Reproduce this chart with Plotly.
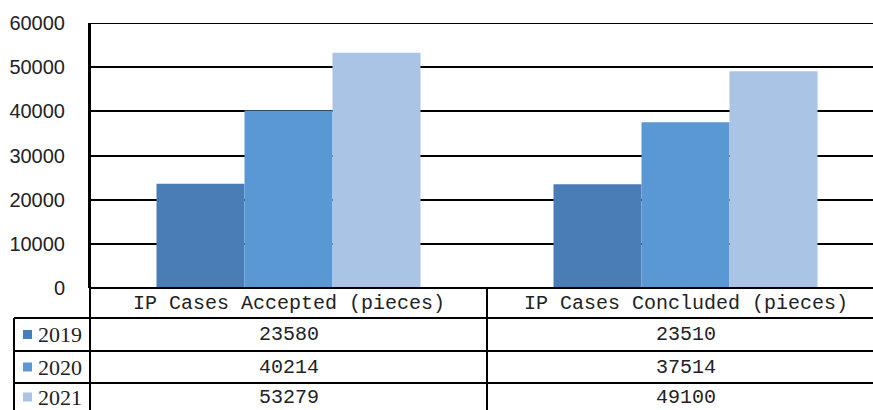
import plotly.graph_objects as go

categories = ["IP Cases Accepted (pieces)", "IP Cases Concluded (pieces)"]
years = ["2019", "2020", "2021"]
values_2019 = [23580, 23510]
values_2020 = [40214, 37514]
values_2021 = [53279, 49100]
series = [values_2019, values_2020, values_2021]
colors = ["#4A7DB5", "#5A98D4", "#A9C4E5"]
y_ticks = [0, 10000, 20000, 30000, 40000, 50000, 60000]

W, H = 873, 410
L, T, B = 90, 23, 122
plot_h = H - T - B
plot_w = W - L

def py(p):  # pixel y -> paper y
    return (H - B - p) / plot_h

def px(p):  # pixel x -> paper x
    return (p - L) / plot_w

fig = go.Figure()
for yr, vals, c in zip(years, series, colors):
    fig.add_trace(go.Bar(x=[0, 1], y=vals, name=yr, marker=dict(color=c, line=dict(width=0)),
                         showlegend=False))

line = dict(color="black", width=2)
shapes = []
# top gridline at the axis maximum
shapes.append(dict(type="line", xref="paper", yref="y", x0=0, x1=1.02, y0=y_ticks[-1], y1=y_ticks[-1],
                   line=line, layer="below"))
for p in [H - B]:
    shapes.append(dict(type="line", xref="paper", yref="paper", x0=0, x1=1.02, y0=py(p), y1=py(p), line=line))
for p in [318, 351, 383]:
    shapes.append(dict(type="line", xref="paper", yref="paper", x0=px(14), x1=1.02, y0=py(p), y1=py(p), line=line))
shapes.append(dict(type="line", xref="paper", yref="paper", x0=0, x1=0, y0=1, y1=py(420), line=line))
shapes.append(dict(type="line", xref="x", yref="paper", x0=0.5, x1=0.5, y0=0, y1=py(420), line=line))
shapes.append(dict(type="line", xref="paper", yref="paper", x0=px(14), x1=px(14), y0=py(318), y1=py(420), line=line))

annotations = []
row_centers = [334.5, 367, 397]
for i, cat in enumerate(categories):
    annotations.append(dict(x=i, xref="x", y=py(303), yref="paper", text=cat, showarrow=False,
                            font=dict(family="Liberation Mono", size=20, color="#222"),
                            xanchor="center", yanchor="middle"))
for r, (yr, vals, c) in enumerate(zip(years, series, colors)):
    yc = py(row_centers[r])
    shapes.append(dict(type="rect", xref="paper", yref="paper", x0=px(23), x1=px(32),
                       y0=yc - 4.5 / plot_h, y1=yc + 4.5 / plot_h, fillcolor=c, line=dict(width=0)))
    annotations.append(dict(x=px(36), xref="paper", y=yc, yref="paper", text=yr, showarrow=False,
                            font=dict(family="Liberation Serif", size=22, color="#222"),
                            xanchor="left", yanchor="middle"))
    for i, v in enumerate(vals):
        annotations.append(dict(x=i, xref="x", y=yc, yref="paper", text=str(v), showarrow=False,
                                font=dict(family="Liberation Mono", size=20, color="#222"),
                                xanchor="center", yanchor="middle"))

fig.update_layout(
    width=W, height=H,
    margin=dict(l=L, r=0, t=T, b=B, pad=0, autoexpand=False),
    paper_bgcolor="white", plot_bgcolor="white",
    barmode="group", bargap=0.335, bargroupgap=0,
    xaxis=dict(range=[-0.5, -0.5 + plot_w / 397], showticklabels=False, showgrid=False,
               zeroline=False, showline=False, ticks=""),
    yaxis=dict(range=[0, 60000], tickvals=y_ticks, tickformat="d", showgrid=True, gridcolor="black", gridwidth=2,
               zeroline=True, zerolinecolor="black", zerolinewidth=2,
               showline=True, linecolor="black", linewidth=2, ticks="",
               ticklabelstandoff=19,
               tickfont=dict(family="Liberation Sans", size=20, color="#222")),
    shapes=shapes, annotations=annotations,
)

fig.write_html("out.html", config={"displayModeBar": False},
               post_script="document.body.style.margin='0';document.body.style.overflow='hidden';")
